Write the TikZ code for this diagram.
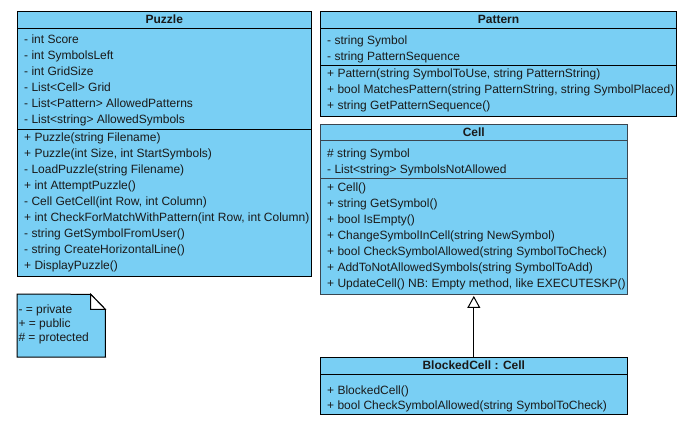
\documentclass[tikz,border=0pt]{standalone}
\usepackage{fontspec}
\setmainfont{Liberation Sans}
\usetikzlibrary{arrows.meta}
\definecolor{boxfill}{HTML}{79CFF4}
\definecolor{txt}{HTML}{1A1A1A}
\definecolor{cellstroke}{HTML}{3B4650}
\tikzset{
  boxshape/.style={draw=black, line width=1pt, fill=boxfill, rectangle, inner sep=0pt},
  member/.style={anchor=base west, inner sep=0pt, text=txt, font=\fontsize{12}{14}\selectfont},
  title/.style={anchor=base, inner sep=0pt, text=txt, font=\fontsize{12}{14}\selectfont\bfseries},
  sepline/.style={draw=black, line width=1pt},
}
\begin{document}
\begin{tikzpicture}[x=1pt,y=-1pt]
\useasboundingbox (0,0) rectangle (687,428);

% ---------------- Puzzle ----------------
\node[boxshape, minimum width=294pt, minimum height=264.7pt] (puzzle) at (164.3,143.65) {};
\draw[sepline] (17.3,28.7) -- (311.3,28.7);
\draw[sepline] (17.3,129.3) -- (311.3,129.3);
\node[title] (puzzlet) at (164.3,23.3) {Puzzle};
\node[member] (pa1) at (24,43.6) {- int Score};
\node[member] (pa2) at (24,59.6) {- int SymbolsLeft};
\node[member] (pa3) at (24,75.6) {- int GridSize};
\node[member] (pa4) at (24,91.6) {- List<Cell> Grid};
\node[member] (pa5) at (24,107.6) {- List<Pattern> AllowedPatterns};
\node[member] (pa6) at (24,123.6) {- List<string> AllowedSymbols};
\node[member] (pm1) at (24,141.3) {+ Puzzle(string Filename)};
\node[member] (pm2) at (24,157.3) {+ Puzzle(int Size, int StartSymbols)};
\node[member] (pm3) at (24,173.3) {- LoadPuzzle(string Filename)};
\node[member] (pm4) at (24,189.3) {+ int AttemptPuzzle()};
\node[member] (pm5) at (24,205.3) {- Cell GetCell(int Row, int Column)};
\node[member] (pm6) at (24,221.3) {+ int CheckForMatchWithPattern(int Row, int Column)};
\node[member] (pm7) at (24,237.3) {- string GetSymbolFromUser()};
\node[member] (pm8) at (24,253.3) {- string CreateHorizontalLine()};
\node[member] (pm9) at (24,269.3) {+ DisplayPuzzle()};

% ---------------- Pattern ----------------
\node[boxshape, minimum width=356.4pt, minimum height=105pt] (pattern) at (498.5,63.8) {};
\draw[sepline] (320.3,28.7) -- (676.7,28.7);
\draw[sepline] (320.3,65.7) -- (676.7,65.7);
\node[title] (patternt) at (498.5,23.3) {Pattern};
\node[member] (ta1) at (327,44.3) {- string Symbol};
\node[member] (ta2) at (327,60.3) {- string PatternSequence};
\node[member] (tm1) at (327,77.6) {+ Pattern(string SymbolToUse, string PatternString)};
\node[member] (tm2) at (327,93.6) {+ bool MatchesPattern(string PatternString, string SymbolPlaced)};
\node[member] (tm3) at (327,109.6) {+ string GetPatternSequence()};

% ---------------- Cell ----------------
\node[boxshape, draw=cellstroke, line width=1.3pt, minimum width=307pt, minimum height=170pt] (cell) at (473.8,209.3) {};
\draw[sepline, draw=cellstroke, line width=1.3pt] (320.3,140.7) -- (627.3,140.7);
\draw[sepline, draw=cellstroke, line width=1.3pt] (320.3,178.3) -- (627.3,178.3);
\node[title] (cellt) at (473.8,136.3) {Cell};
\node[member] (ca1) at (327,157.3) {\# string Symbol};
\node[member] (ca2) at (327,173.3) {- List<string> SymbolsNotAllowed};
\node[member] (cm1) at (327,191) {+ Cell()};
\node[member] (cm2) at (327,207) {+ string GetSymbol()};
\node[member] (cm3) at (327,223) {+ bool IsEmpty()};
\node[member] (cm4) at (327,239) {+ ChangeSymbolInCell(string NewSymbol)};
\node[member] (cm5) at (327,255) {+ bool CheckSymbolAllowed(string SymbolToCheck)};
\node[member] (cm6) at (327,271) {+ AddToNotAllowedSymbols(string SymbolToAdd)};
\node[member] (cm7) at (327,287) {+ UpdateCell() NB: Empty method, like EXECUTESKP()};

% ---------------- BlockedCell ----------------
\node[boxshape, minimum width=307pt, minimum height=57pt] (blocked) at (473.8,385.5) {};
\draw[sepline] (320.3,374.7) -- (627.3,374.7);
\node[title] (blockedt) at (473.8,369.3) {BlockedCell : Cell};
\node[member] (bm1) at (327,394.3) {+ BlockedCell()};
\node[member] (bm2) at (327,409.3) {+ bool CheckSymbolAllowed(string SymbolToCheck)};

% ---------------- inheritance ----------------
\draw[line width=1pt, -{Triangle[open, length=12pt, width=13pt, fill=white]}] (blocked.north) -- ([yshift=-1pt]cell.south);

% ---------------- note ----------------
\node[draw=none, inner sep=0pt, minimum width=88pt, minimum height=62.7pt] (note) at (61.3,325.65) {};
\draw[line width=1pt, fill=boxfill] (note.south west) -- (note.north west) -- (90.7,294.3) -- (105.3,309.3) -- (note.south east) -- cycle;
\draw[line width=1pt, fill=white] (90.7,294.3) -- (90.7,309.3) -- (105.3,309.3) -- cycle;
\node[member] (n1) at (18.3,313.3) {- = private};
\node[member] (n2) at (18.3,327.3) {+ = public};
\node[member] (n3) at (18.3,341.6) {\# = protected};
\end{tikzpicture}
\end{document}
